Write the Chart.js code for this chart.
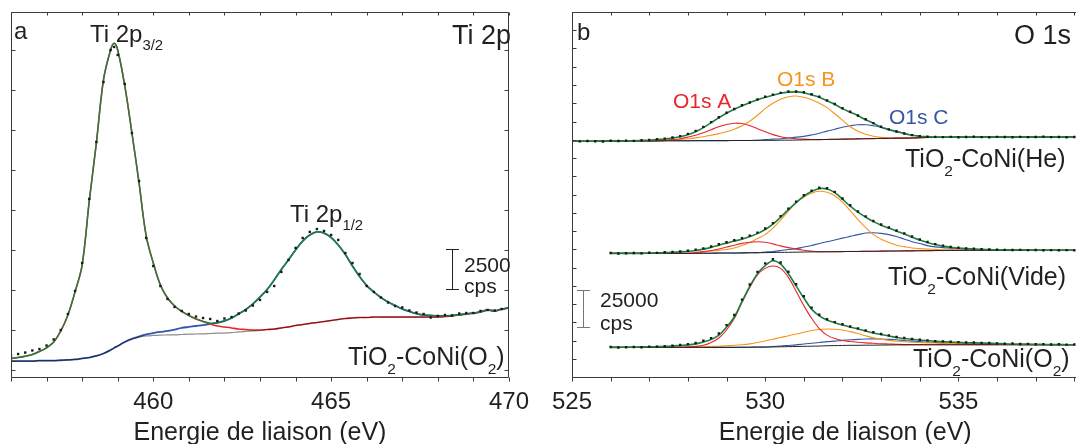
<!DOCTYPE html>
<html lang="fr">
<head>
<meta charset="UTF-8">
<title>XPS Ti 2p / O 1s</title>
<script src="https://cdn.jsdelivr.net/npm/chart.js@4.4.1/dist/chart.umd.min.js"></script>
<style>
  html, body { margin: 0; padding: 0; background: #fff; overflow: hidden; }
  body { width: 1076px; height: 444px; position: relative; }
  #chartA { position: absolute; left: 0; top: 0; }
  #chartB { position: absolute; left: 540px; top: 0; }
</style>
</head>
<body>
<canvas id="chartA" width="540" height="444"></canvas>
<canvas id="chartB" width="584" height="444"></canvas>
<script>
// ---- panel a : Ti 2p (binding energy, eV ; intensity, kcps) ----
const energyA = [456.0,456.2,456.4,456.6,456.8,457.0,457.2,457.4,457.6,457.8,458.0,458.2,458.4,458.6,458.8,458.9,
  459.0,459.2,459.4,459.6,459.8,460.0,460.2,460.4,460.6,460.8,461.0,461.2,461.4,461.6,461.8,462.0,462.2,462.4,462.6,462.8,
  463.0,463.2,463.4,463.6,463.8,464.0,464.2,464.4,464.6,464.8,465.0,465.2,465.4,465.6,465.8,466.0,466.2,466.4,466.6,466.8,
  467.0,467.2,467.4,467.6,467.8,468.0,468.2,468.4,468.6,468.8,469.0,469.2,469.4,469.6,469.8,470.0];
const tiMeasured = [5.91,6.0,6.09,6.22,6.31,6.53,6.91,7.5,8.5,9.94, 11.69,15.69,19.25,23.0,25.0,25.19,24.69,22.88,19.81,16.81,
  13.25,11.5,10.25,9.44,8.94,8.69,8.5,8.34,8.25,8.19, 8.06,8.22,8.31,8.53,8.72,9.03,9.38,9.88,10.25,11.13,
  11.88,12.63,13.25,13.63,13.81,13.69,13.44,13.13,12.31,11.69, 11.0,10.25,9.88,9.53,9.22,9.0,8.91,8.72,8.59,8.5,
  8.28,8.38,8.44,8.41,8.53,8.56,8.56,8.69,8.75,8.72, 8.81,8.88];
const tiFit = [5.72,5.78,5.86,5.97,6.16,6.38,6.75,7.44,8.44,9.88, 11.56,15.56,19.19,23.13,25.0,25.42,25.0,22.75,19.81,16.69,
  13.38,11.69,10.31,9.5,9.0,8.66,8.41,8.19,8.04,7.92, 7.97,8.08,8.25,8.5,8.78,9.13,9.56,10.03,10.63,11.28,
  11.88,12.5,13.06,13.44,13.63,13.56,13.28,12.81,12.22,11.5, 10.84,10.28,9.88,9.53,9.25,9.03,8.81,8.66,8.53,8.44,
  8.41,8.38,8.38,8.41,8.44,8.5,8.56,8.63,8.75,8.69, 8.81,8.88];
const ti2p32 = [5.72,5.78,5.86,5.97,6.16,6.38,6.75,7.44,8.44,9.88, 11.56,15.56,19.19,23.13,25.0,25.42,25.0,22.75,19.81,16.69,
  13.38,11.69,10.31,9.5,9.0,8.66,8.41,8.19,8.03,7.88, 7.75,7.69,7.63,7.56,7.53,7.5,7.5,7.53,7.56,7.63,
  7.69,7.78,7.84,7.91,7.97,8.03,8.09,8.16,8.22,8.25, 8.28,8.28,8.31,8.31,8.31,8.31,8.31,8.31,8.31,8.31,
  8.31,8.31,8.34,8.38,8.47,8.5,8.56,8.63,8.75,8.69, 8.81,8.88];
const ti2p12 = [5.56,5.56,5.56,5.56,5.59,5.59,5.59,5.61,5.63,5.66, 5.72,5.78,5.88,6.03,6.25,6.38,6.5,6.75,6.94,7.09,
  7.22,7.31,7.38,7.44,7.53,7.63,7.69,7.75,7.81,7.88, 7.95,8.06,8.25,8.5,8.78,9.13,9.56,10.03,10.63,11.28,
  11.88,12.5,13.06,13.44,13.63,13.56,13.28,12.81,12.22,11.5, 10.84,10.28,9.88,9.53,9.25,9.03,8.81,8.66,8.53,8.44,
  8.41,8.38,8.38,8.41,8.44,8.5,8.56,8.63,8.75,8.69, 8.81,8.88];
const tiBackground = [5.56,5.56,5.56,5.56,5.59,5.59,5.59,5.61,5.63,5.66, 5.72,5.78,5.88,6.03,6.25,6.38,6.5,6.75,6.94,7.06,
  7.13,7.16,7.18,7.19,7.2,7.22,7.24,7.25,7.26,7.28, 7.3,7.31,7.34,7.38,7.41,7.44,7.47,7.53,7.56,7.63,
  7.69,7.78,7.84,7.91,7.97,8.03,8.09,8.16,8.22,8.25, 8.28,8.28,8.31,8.31,8.31,8.31,8.31,8.31,8.31,8.31,
  8.31,8.31,8.34,8.38,8.47,8.5,8.56,8.63,8.75,8.69, 8.81,8.88];

// ---- panel b : O 1s, three samples stacked (kcps) ----
const energyB = [525.0,525.2,525.4,525.6,525.8,526.0,526.2,526.4,526.6,526.8,527.0,527.2,527.4,527.6,527.8,
  528.0,528.2,528.4,528.6,528.8,529.0,529.2,529.4,529.6,529.8,530.0,530.2,530.4,530.6,530.8,
  531.0,531.2,531.4,531.6,531.8,532.0,532.2,532.4,532.6,532.8,533.0,533.2,533.4,533.6,533.8,
  534.0,534.2,534.4,534.6,534.8,535.0,535.2,535.4,535.6,535.8,536.0,536.2,536.4,536.6,536.8,
  537.0,537.2,537.4,537.6,537.8,538.0];

const heMeasured = [161.6,161.4,161.6,161.5,161.3,161.8,161.6,161.9,161.7,162.2, 162.3,162.8,163.3,164.0,165.0,166.5,168.6,171.3,174.6,177.9,
  181.0,183.6,186.1,188.0,190.1,191.9,193.4,194.6,195.5,195.6, 195.0,193.7,191.9,189.4,187.0,184.1,181.7,179.1,176.5,173.9,
  171.4,169.6,168.1,166.8,165.7,165.0,164.6,164.5,164.3,164.5, 164.2,164.4,164.6,164.3,164.2,164.5,164.4,164.2,164.5,164.3,
  164.4,164.6,164.3,164.4,164.2,164.4];
const heFit = [161.5,161.5,161.5,161.5,161.5,161.7,161.7,161.7,161.8,162.0, 162.2,162.6,163.0,163.7,164.6,166.0,168.0,170.8,174.2,177.6,
  180.7,183.4,185.8,187.9,189.9,191.6,193.0,194.4,195.1,195.3, 194.7,193.3,191.6,189.2,186.8,183.8,181.4,179.0,176.2,173.8,
  171.1,169.4,168.0,166.7,165.6,164.9,164.6,164.3,164.3,164.3, 164.3,164.3,164.3,164.3,164.3,164.3,164.3,164.3,164.3,164.3,
  164.3,164.3,164.3,164.3,164.3,164.3];
const heA = [161.5,161.5,161.5,161.5,161.6,161.6,161.6,161.6,161.7,161.7, 161.7,161.9,162.2,162.6,163.2,164.3,165.6,167.3,169.4,171.4,
  172.9,173.8,173.6,172.1,170.1,168.0,166.0,164.6,163.7,163.2, 162.9,162.7,162.6,162.7,162.8,162.9,163.0,163.1,163.2,163.3,
  163.4,163.5,163.6,163.6,163.7,163.9,164.0,164.0,164.1,164.2, 164.3,164.3,164.3,164.3,164.3,164.3,164.3,164.3,164.3,164.3,
  164.3,164.3,164.3,164.3,164.3,164.3];
const heB = [161.5,161.5,161.5,161.5,161.6,161.6,161.6,161.6,161.7,161.7, 161.7,161.7,161.8,162.2,162.7,163.2,163.8,164.6,165.6,166.7,
  168.0,169.7,172.1,175.2,179.3,183.8,187.5,190.3,192.0,192.5, 191.6,189.9,187.5,184.5,180.3,175.9,171.4,168.4,166.3,164.9,
  164.1,163.6,163.6,163.6,163.7,163.9,164.0,164.0,164.1,164.2, 164.3,164.3,164.3,164.3,164.3,164.3,164.3,164.3,164.3,164.3,
  164.3,164.3,164.3,164.3,164.3,164.3];
const heC = [161.5,161.5,161.5,161.5,161.6,161.6,161.6,161.6,161.7,161.7, 161.7,161.7,161.8,161.8,161.8,161.8,161.9,161.9,161.9,161.9,
  161.9,162.0,162.0,162.0,162.1,162.6,162.9,163.2,163.7,164.3, 164.8,165.8,167.0,168.4,169.7,171.1,172.1,172.8,172.8,172.1,
  171.1,169.7,168.4,167.0,165.8,164.9,164.4,164.3,164.3,164.3, 164.3,164.3,164.3,164.3,164.3,164.3,164.3,164.3,164.3,164.3,
  164.3,164.3,164.3,164.3,164.3,164.3];
const heBackground = [161.5,161.5,161.5,161.5,161.6,161.6,161.6,161.6,161.7,161.7, 161.7,161.7,161.8,161.8,161.8,161.8,161.9,161.9,161.9,161.9,
  161.9,162.0,162.0,162.0,162.1,162.1,162.1,162.2,162.2,162.3, 162.4,162.5,162.6,162.7,162.8,162.9,163.0,163.1,163.2,163.3,
  163.4,163.5,163.6,163.6,163.7,163.9,164.0,164.0,164.1,164.2, 164.3,164.3,164.3,164.3,164.3,164.3,164.3,164.3,164.3,164.3,
  164.3,164.3,164.3,164.3,164.3,164.3];

const videMeasured = [null,null,null,null,null,
  84.9,84.6,84.8,84.9,84.7,85.1,85.0,85.4,85.6,86.0, 86.5,87.2,88.1,89.4,90.9,92.3,93.7,95.1,96.8,98.9,
  101.7,105.4,110.2,115.3,120.1,124.5,127.6,129.6,129.3,126.8, 122.3,117.6,113.4,110.0,106.9,104.5,102.4,100.3,98.4,96.2,
  94.2,92.5,91.0,90.0,89.1,88.5,88.0,87.8,87.5,87.3, 87.2,87.1,87.0,87.1,86.9,87.0,86.8,86.9,86.8,86.9,86.8];
const videFit = [null,null,null,null,null,
  84.7,84.7,84.7,84.7,84.7,84.9,85.0,85.2,85.4,85.7, 86.1,86.7,87.6,88.8,90.3,91.7,93.1,94.4,96.2,98.2,
  101.0,104.7,109.5,114.6,119.4,123.9,127.0,129.0,128.8,126.3, 121.8,117.0,112.9,109.5,106.4,104.0,102.0,99.9,97.9,95.8,
  93.8,92.1,90.7,89.7,88.8,88.3,87.9,87.6,87.4,87.3, 87.1,87.1,87.0,87.0,86.9,86.9,86.8,86.8,86.8,86.8,86.8];
const videA = [null,null,null,null,null,
  84.7,84.7,84.7,84.7,84.7,84.7,84.7,84.7,84.7,84.7, 84.7,85.2,85.9,86.7,87.7,89.0,90.3,91.5,92.3,92.6,
  92.3,91.2,89.8,88.6,87.6,86.8,86.2,85.8,85.8,85.8, 85.9,86.0,86.0,86.1,86.1,86.2,86.3,86.3,86.4,86.4,
  86.5,86.5,86.6,86.6,86.7,86.7,86.8,86.8,86.8,86.8, 86.8,86.8,86.8,86.8,86.8,86.8,86.8,86.8,86.8,86.8,86.8];
const videB = [null,null,null,null,null,
  84.7,84.7,84.7,84.7,84.7,84.7,84.7,84.7,84.7,84.7, 84.7,84.7,85.6,86.2,86.7,87.3,88.3,90.0,92.1,94.8,
  97.5,102.0,107.5,113.6,119.4,123.2,125.9,127.2,126.6,124.2, 119.8,114.0,107.8,102.3,97.5,94.4,92.1,90.3,89.3,88.4,
  87.9,87.6,87.4,87.2,87.1,86.9,86.8,86.8,86.8,86.8, 86.8,86.8,86.8,86.8,86.8,86.8,86.8,86.8,86.8,86.8,86.8];
const videC = [null,null,null,null,null,
  84.7,84.7,84.7,84.7,84.7,84.7,84.7,84.7,84.7,84.7, 84.7,84.7,84.8,84.8,84.9,84.9,84.9,85.0,85.1,85.2,
  85.6,86.0,86.6,87.3,87.9,89.0,90.1,91.5,92.7,93.8, 95.1,96.3,97.5,98.6,98.8,98.4,97.5,96.2,94.4,92.7,
  91.4,90.0,89.1,88.6,88.3,88.0,87.7,87.5,87.3,87.2, 87.1,87.0,87.0,86.9,86.9,86.9,86.8,86.8,86.8,86.8,86.8];
const videBackground = [null,null,null,null,null,
  84.7,84.7,84.7,84.7,84.7,84.7,84.7,84.7,84.7,84.7, 84.7,84.7,84.8,84.8,84.9,84.9,84.9,85.0,85.1,85.1,
  85.2,85.3,85.4,85.4,85.5,85.6,85.7,85.7,85.8,85.8, 85.9,86.0,86.0,86.1,86.1,86.2,86.3,86.3,86.4,86.4,
  86.5,86.5,86.6,86.6,86.7,86.7,86.8,86.8,86.8,86.8, 86.8,86.8,86.8,86.8,86.8,86.8,86.8,86.8,86.8,86.8,86.8];

const o2Measured = [null,null,null,null,null,
  20.5,20.2,20.4,20.6,20.4,20.8,20.7,21.1,21.4,21.9, 22.5,23.3,24.8,26.6,29.8,35.5,42.5,53.0,63.4,72.0,
  77.8,80.6,78.4,72.1,63.5,55.3,47.5,42.6,39.6,37.6, 36.1,34.6,33.3,31.9,30.6,29.4,28.5,27.4,26.7,26.0,
  25.5,25.1,24.6,24.4,24.1,23.9,23.6,23.6,23.3,23.3, 23.0,22.8,22.9,22.6,22.7,22.4,22.5,22.3,22.4,22.2,22.3];
const o2Fit = [null,null,null,null,null,
  20.3,20.3,20.4,20.4,20.5,20.7,20.8,20.9,21.2,21.6, 22.0,22.7,24.0,25.7,28.7,34.2,41.1,51.8,62.0,70.8,
  76.3,79.6,77.3,70.7,62.4,54.1,46.5,41.9,39.0,37.2, 35.6,34.2,32.9,31.5,30.1,29.1,28.1,27.0,26.4,25.8,
  25.3,24.8,24.4,24.2,24.0,23.7,23.5,23.4,23.3,23.1, 22.9,22.7,22.6,22.5,22.5,22.4,22.3,22.2,22.2,22.1,22.1];
const o2A = [null,null,null,null,null,
  20.3,20.3,20.3,20.3,20.3,20.3,20.3,20.3,20.3,20.4, 20.6,21.0,21.7,23.6,26.7,32.2,40.0,51.0,61.3,70.0,
  74.4,76.0,74.4,68.2,58.8,48.9,40.2,33.2,28.7,26.3, 25.0,24.3,23.8,23.4,23.1,22.8,22.6,22.4,22.2,22.1,
  22.1,22.1,22.1,22.1,22.1,22.1,22.1,22.1,22.1,22.1, 22.1,22.1,22.1,22.1,22.1,22.1,22.1,22.1,22.1,22.1,22.1];
const o2B = [null,null,null,null,null,
  20.3,20.3,20.3,20.3,20.3,20.3,20.3,20.3,20.3,20.3, 20.3,20.5,20.7,20.9,21.1,21.4,21.7,22.1,22.7,23.6,
  24.6,25.9,27.0,28.3,29.4,30.6,31.8,32.5,32.9,32.7, 32.2,31.1,29.8,28.2,26.8,25.9,25.1,24.5,24.1,23.8,
  23.6,23.4,23.3,23.1,23.0,22.9,22.7,22.6,22.5,22.5, 22.4,22.3,22.3,22.2,22.2,22.2,22.1,22.1,22.1,22.1,22.1];
const o2C = [null,null,null,null,null,
  20.3,20.3,20.3,20.3,20.3,20.3,20.3,20.3,20.3,20.3, 20.3,20.3,20.3,20.3,20.3,20.3,20.3,20.4,20.4,20.5,
  20.5,20.9,21.2,21.6,22.0,22.6,23.1,23.6,24.2,24.6, 25.1,25.5,25.8,26.0,26.1,26.0,25.8,25.5,25.0,24.6,
  24.2,23.9,23.6,23.4,23.3,23.1,22.9,22.8,22.7,22.5, 22.4,22.3,22.3,22.2,22.2,22.2,22.1,22.1,22.1,22.1,22.1];
const o2Background = [null,null,null,null,null,
  20.3,20.3,20.3,20.3,20.3,20.3,20.3,20.3,20.3,20.3, 20.3,20.3,20.3,20.3,20.3,20.3,20.3,20.4,20.4,20.5,
  20.5,20.6,20.7,20.8,20.9,21.0,21.1,21.2,21.4,21.5, 21.6,21.7,21.7,21.8,21.8,21.9,21.9,22.0,22.0,22.1,
  22.1,22.1,22.1,22.1,22.1,22.1,22.1,22.1,22.1,22.1, 22.1,22.1,22.1,22.1,22.1,22.1,22.1,22.1,22.1,22.1,22.1];

// ---------------------------------------------------------------
const FONT = '"Liberation Sans", Arial, Helvetica, sans-serif';
const INK = '#231f20';
const RED = '#e8262c', ORANGE = '#f7941d', BLUE = '#3556a8', GREEN = '#1d8040';
Chart.defaults.font.family = FONT;
Chart.defaults.color = INK;

function pts(e, v) { return e.map((x, i) => ({ x: x, y: v[i] })); }
function curve(e, v, color, w) {
  return { data: pts(e, v), showLine: true, borderColor: color, borderWidth: w,
           pointRadius: 0, tension: 0.35, fill: false };
}
function dots(e, v) {
  return { data: pts(e, v), showLine: false, pointStyle: 'rect', pointRadius: 1.7,
           pointBackgroundColor: '#1a1a1a', pointBorderWidth: 0 };
}

function rich(ctx, t) {
  const subSize = t.size * 0.62;
  let w = 0;
  t.parts.forEach(p => { ctx.font = (p[1] ? subSize : t.size) + 'px ' + FONT; w += ctx.measureText(p[0]).width; });
  let cx = t.align === 'right' ? t.x - w : t.x;
  ctx.fillStyle = t.color || INK;
  ctx.textBaseline = 'alphabetic';
  ctx.textAlign = 'left';
  t.parts.forEach(p => {
    ctx.font = (p[1] ? subSize : t.size) + 'px ' + FONT;
    ctx.fillText(p[0], cx, p[1] ? t.y + t.size * 0.34 : t.y);
    cx += ctx.measureText(p[0]).width;
  });
}

function makeDecor(cfg) {
  return {
    id: 'decor',
    afterDraw(chart) {
      const ctx = chart.ctx, a = chart.chartArea, xs = chart.scales.x, ys = chart.scales.y;
      const L = Math.round(a.left) + 0.5, T = Math.round(a.top) + 0.5, B = Math.round(a.bottom) + 0.5;
      const R = Math.round(a.right) - 0.5;
      ctx.save();
      ctx.strokeStyle = '#3a3a3a';
      ctx.lineWidth = 1;
      ctx.beginPath();
      ctx.moveTo(R, T); ctx.lineTo(L, T); ctx.lineTo(L, B); ctx.lineTo(R, B); ctx.lineTo(R, T);
      xs.ticks.forEach(t => {
        const p = Math.round(xs.getPixelForValue(t.value)) + 0.5;
        ctx.moveTo(p, B); ctx.lineTo(p, B + 4);
        ctx.moveTo(p, T); ctx.lineTo(p, T + 3);
      });
      ys.ticks.forEach(t => {
        const p = Math.round(ys.getPixelForValue(t.value)) + 0.5;
        ctx.moveTo(L, p); ctx.lineTo(L + 4, p);
        ctx.moveTo(R, p); ctx.lineTo(R - 4, p);
      });
      ctx.stroke();

      // intensity scale bar, drawn through the y scale
      const sb = cfg.bar;
      const y0 = Math.round(ys.getPixelForValue(sb.from)) + 0.5;
      const y1 = Math.round(ys.getPixelForValue(sb.from + sb.span)) + 0.5;
      ctx.strokeStyle = sb.color;
      ctx.beginPath();
      ctx.moveTo(sb.x + 0.5, y0); ctx.lineTo(sb.x + 0.5, y1);
      ctx.moveTo(sb.x - 6, y0); ctx.lineTo(sb.x + 7, y0);
      ctx.moveTo(sb.x - 6, y1); ctx.lineTo(sb.x + 7, y1);
      ctx.stroke();

      cfg.texts.forEach(t => rich(ctx, t));
      ctx.restore();
    }
  };
}

function xAxis(min, max) {
  return {
    type: 'linear', min: min, max: max,
    grid: { display: false, drawTicks: false }, border: { display: false },
    ticks: { stepSize: 1, autoSkip: false, maxRotation: 0, includeBounds: false, padding: 11,
             font: { size: 24 }, color: INK,
             callback: v => (Math.abs(v % 5) < 1e-6 ? String(v) : '') },
    title: { display: true, text: 'Energie de liaison (eV)', color: INK,
             font: { size: 25, lineHeight: 0.9 }, padding: { top: 0, bottom: 0 } },
    afterFit: s => { s.height = 67; }
  };
}

const common = {
  responsive: false, animation: false, events: [],
  plugins: { legend: { display: false }, tooltip: { enabled: false } }
};

new Chart(document.getElementById('chartA'), {
  type: 'scatter',
  data: { datasets: [
    dots(energyA, tiMeasured),
    curve(energyA, tiFit, GREEN, 1.4),
    curve(energyA, tiBackground, 'rgba(0,0,0,0.45)', 1.2),
    curve(energyA, ti2p32, RED, 1.6),
    curve(energyA, ti2p12, BLUE, 1.8)
  ] },
  options: Object.assign({}, common, {
    layout: { padding: { left: 9, right: 23, top: 12, bottom: 0 } },
    scales: {
      x: xAxis(456, 470),
      y: { type: 'linear', display: false, min: 4.5625, max: 27.375,
           ticks: { stepSize: 2.5, includeBounds: false } }
    }
  }),
  plugins: [makeDecor({
    bar: { x: 452, from: 10.06, span: 2.5, color: '#222' },
    texts: [
      { parts: [['a']], x: 14, y: 39, size: 24 },
      { parts: [['Ti 2p']], x: 511, y: 44, size: 27, align: 'right' },
      { parts: [['Ti 2p'], ['3/2', 1]], x: 90, y: 42, size: 24 },
      { parts: [['Ti 2p'], ['1/2', 1]], x: 290, y: 222, size: 24 },
      { parts: [['TiO'], ['2', 1], ['-CoNi(O'], ['2', 1], [')']], x: 348, y: 365, size: 25 },
      { parts: [['2500']], x: 464, y: 272, size: 21 },
      { parts: [['cps']], x: 464, y: 293, size: 21 }
    ]
  })]
});

// panel b runs past the right edge of the page, as in the original figure
new Chart(document.getElementById('chartB'), {
  type: 'scatter',
  data: { datasets: [
    dots(energyB, heMeasured), dots(energyB, videMeasured), dots(energyB, o2Measured),
    curve(energyB, heFit, GREEN, 1.6), curve(energyB, videFit, GREEN, 1.6), curve(energyB, o2Fit, GREEN, 1.6),
    curve(energyB, heBackground, '#222', 1), curve(energyB, videBackground, '#222', 1), curve(energyB, o2Background, '#222', 1),
    curve(energyB, heA, RED, 1.1), curve(energyB, videA, RED, 1.1), curve(energyB, o2A, RED, 1.1),
    curve(energyB, heB, ORANGE, 1.1), curve(energyB, videB, ORANGE, 1.1), curve(energyB, o2B, ORANGE, 1.1),
    curve(energyB, heC, BLUE, 1.1), curve(energyB, videC, BLUE, 1.1), curve(energyB, o2C, BLUE, 1.1)
  ] },
  options: Object.assign({}, common, {
    layout: { padding: { left: 32, right: 0, top: 12, bottom: 0 } },
    scales: {
      x: xAxis(525, 539.14),
      y: { type: 'linear', display: false, min: 0, max: 250,
           ticks: { stepSize: 12.5, includeBounds: false } }
    }
  }),
  plugins: [makeDecor({
    bar: { x: 43, from: 34.3, span: 25, color: '#777' },
    texts: [
      { parts: [['b']], x: 37, y: 40, size: 24 },
      { parts: [['O 1s']], x: 531, y: 44, size: 27, align: 'right' },
      { parts: [['O1s A']], x: 133, y: 108, size: 21, color: RED },
      { parts: [['O1s B']], x: 237, y: 86, size: 21, color: ORANGE },
      { parts: [['O1s C']], x: 349, y: 124, size: 21, color: BLUE },
      { parts: [['TiO'], ['2', 1], ['-CoNi(He)']], x: 365, y: 167, size: 25 },
      { parts: [['TiO'], ['2', 1], ['-CoNi(Vide)']], x: 348, y: 285, size: 25 },
      { parts: [['TiO'], ['2', 1], ['-CoNi(O'], ['2', 1], [')']], x: 373, y: 367, size: 25 },
      { parts: [['25000']], x: 60, y: 307, size: 21 },
      { parts: [['cps']], x: 60, y: 330, size: 21 }
    ]
  })]
});
</script>
</body>
</html>
